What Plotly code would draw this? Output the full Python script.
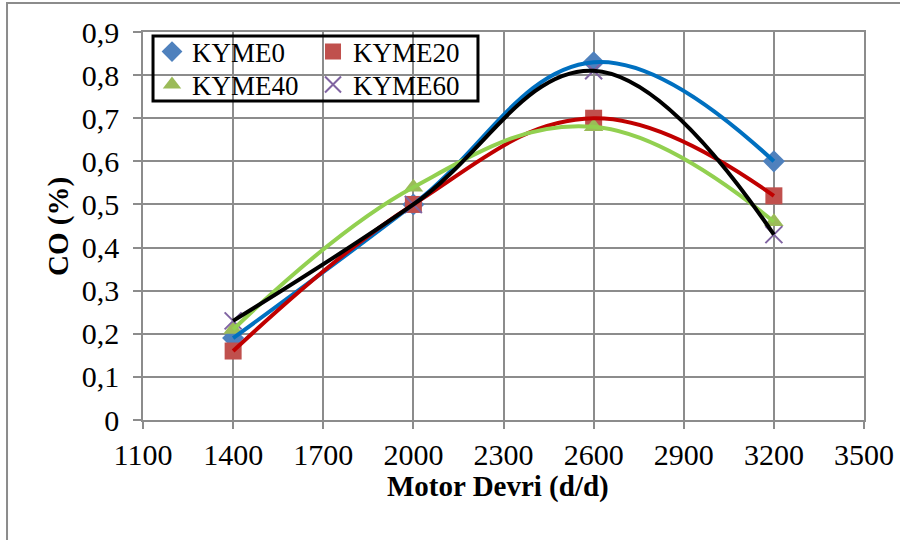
import plotly.graph_objects as go

# Engine speed (rpm) and CO emissions (%) for each fuel blend
rpm = [1400, 2000, 2600, 3200]
kyme0 = [0.19, 0.50, 0.83, 0.60]
kyme20 = [0.16, 0.50, 0.70, 0.52]
kyme40 = [0.21, 0.54, 0.68, 0.46]
kyme60 = [0.23, 0.50, 0.81, 0.43]

x_ticks = [1100, 1400, 1700, 2000, 2300, 2600, 2900, 3200, 3500]
y_ticks = [0, 0.1, 0.2, 0.3, 0.4, 0.5, 0.6, 0.7, 0.8, 0.9]
y_tick_text = ["0", "0,1", "0,2", "0,3", "0,4", "0,5", "0,6", "0,7", "0,8", "0,9"]

# name, values, marker colour, symbol, trend colour, legend slot
series = [
    ("KYME0", kyme0, "#4F81BD", "diamond", "#0070C0", "legend"),
    ("KYME20", kyme20, "#C0504D", "square", "#C00000", "legend2"),
    ("KYME40", kyme40, "#9BBB59", "triangle-up", "#92D050", "legend3"),
    ("KYME60", kyme60, "#8064A2", "x-thin-open", "#000000", "legend4"),
]

FONT = "Liberation Serif, Times New Roman, serif"
GRID = "#8C8C8C"

fig = go.Figure()

# marker series
for name, vals, mcol, sym, lcol, leg in series:
    marker = dict(color=mcol, size=17, symbol=sym)
    if sym == "x-thin-open":
        marker["line"] = dict(color=mcol, width=2)
    fig.add_trace(go.Scatter(
        x=rpm, y=vals, mode="markers", name=name, marker=marker, legend=leg,
    ))

# smooth trend curves through each series
for name, vals, mcol, sym, lcol, leg in series:
    fig.add_trace(go.Scatter(
        x=rpm, y=vals, mode="lines", showlegend=False, hoverinfo="skip",
        line=dict(color=lcol, width=4, shape="spline", smoothing=1.15),
    ))

legend_common = dict(
    orientation="v", yanchor="middle", xanchor="left",
    bgcolor="rgba(0,0,0,0)", borderwidth=0,
    font=dict(family=FONT, size=27, color="black"),
    tracegroupgap=0, itemsizing="trace",
)

# 2x2 legend grid: two columns, two rows
col_x = [0.0125, 0.2358]
row_y = [0.9485, 0.8634]

fig.update_layout(
    width=900, height=540,
    margin=dict(l=143, r=36, t=32, b=120),
    paper_bgcolor="white", plot_bgcolor="white",
    font=dict(family=FONT, size=30, color="black"),
    showlegend=True,
    legend=dict(legend_common, x=col_x[0], y=row_y[0]),
    legend2=dict(legend_common, x=col_x[1], y=row_y[0]),
    legend3=dict(legend_common, x=col_x[0], y=row_y[1]),
    legend4=dict(legend_common, x=col_x[1], y=row_y[1]),
    xaxis=dict(
        range=[1100, 3500], tickvals=x_ticks,
        ticktext=[str(v) for v in x_ticks],
        showgrid=True, gridcolor=GRID, gridwidth=1.5,
        showline=True, linecolor=GRID, linewidth=1.5, mirror=True,
        ticks="outside", ticklen=7, tickcolor=GRID, tickwidth=1.5,
        zeroline=False, automargin=False,
    ),
    yaxis=dict(
        range=[0, 0.9], tickvals=y_ticks, ticktext=y_tick_text,
        showgrid=True, gridcolor=GRID, gridwidth=1.5,
        showline=True, linecolor=GRID, linewidth=1.5, mirror=True,
        ticks="outside", ticklen=8, tickcolor=GRID, tickwidth=1.5,
        ticklabelstandoff=8,
        zeroline=False, automargin=False,
    ),
    annotations=[
        dict(text="<b>Motor Devri (d/d)</b>", xref="paper", yref="paper",
             x=0.493, y=-0.172, xanchor="center", yanchor="middle",
             showarrow=False, font=dict(family=FONT, size=29, color="black")),
        dict(text="<b>CO (%)</b>", xref="paper", yref="paper",
             x=-0.1179, y=0.5, xanchor="center", yanchor="middle", textangle=-90,
             showarrow=False, font=dict(family=FONT, size=29, color="black")),
    ],
    shapes=[
        # outer chart frame
        dict(type="rect", xref="paper", yref="paper",
             x0=-0.1886, x1=1.06, y0=-0.33, y1=1.0747,
             line=dict(color="#8C8C8C", width=2), fillcolor="rgba(0,0,0,0)", layer="below"),
        # legend frame
        dict(type="rect", xref="paper", yref="paper",
             x0=0.0139, x1=0.4646, y0=0.8222, y1=0.9897,
             line=dict(color="black", width=3), fillcolor="rgba(0,0,0,0)", layer="above"),
    ],
)

fig.write_html("out.html")
